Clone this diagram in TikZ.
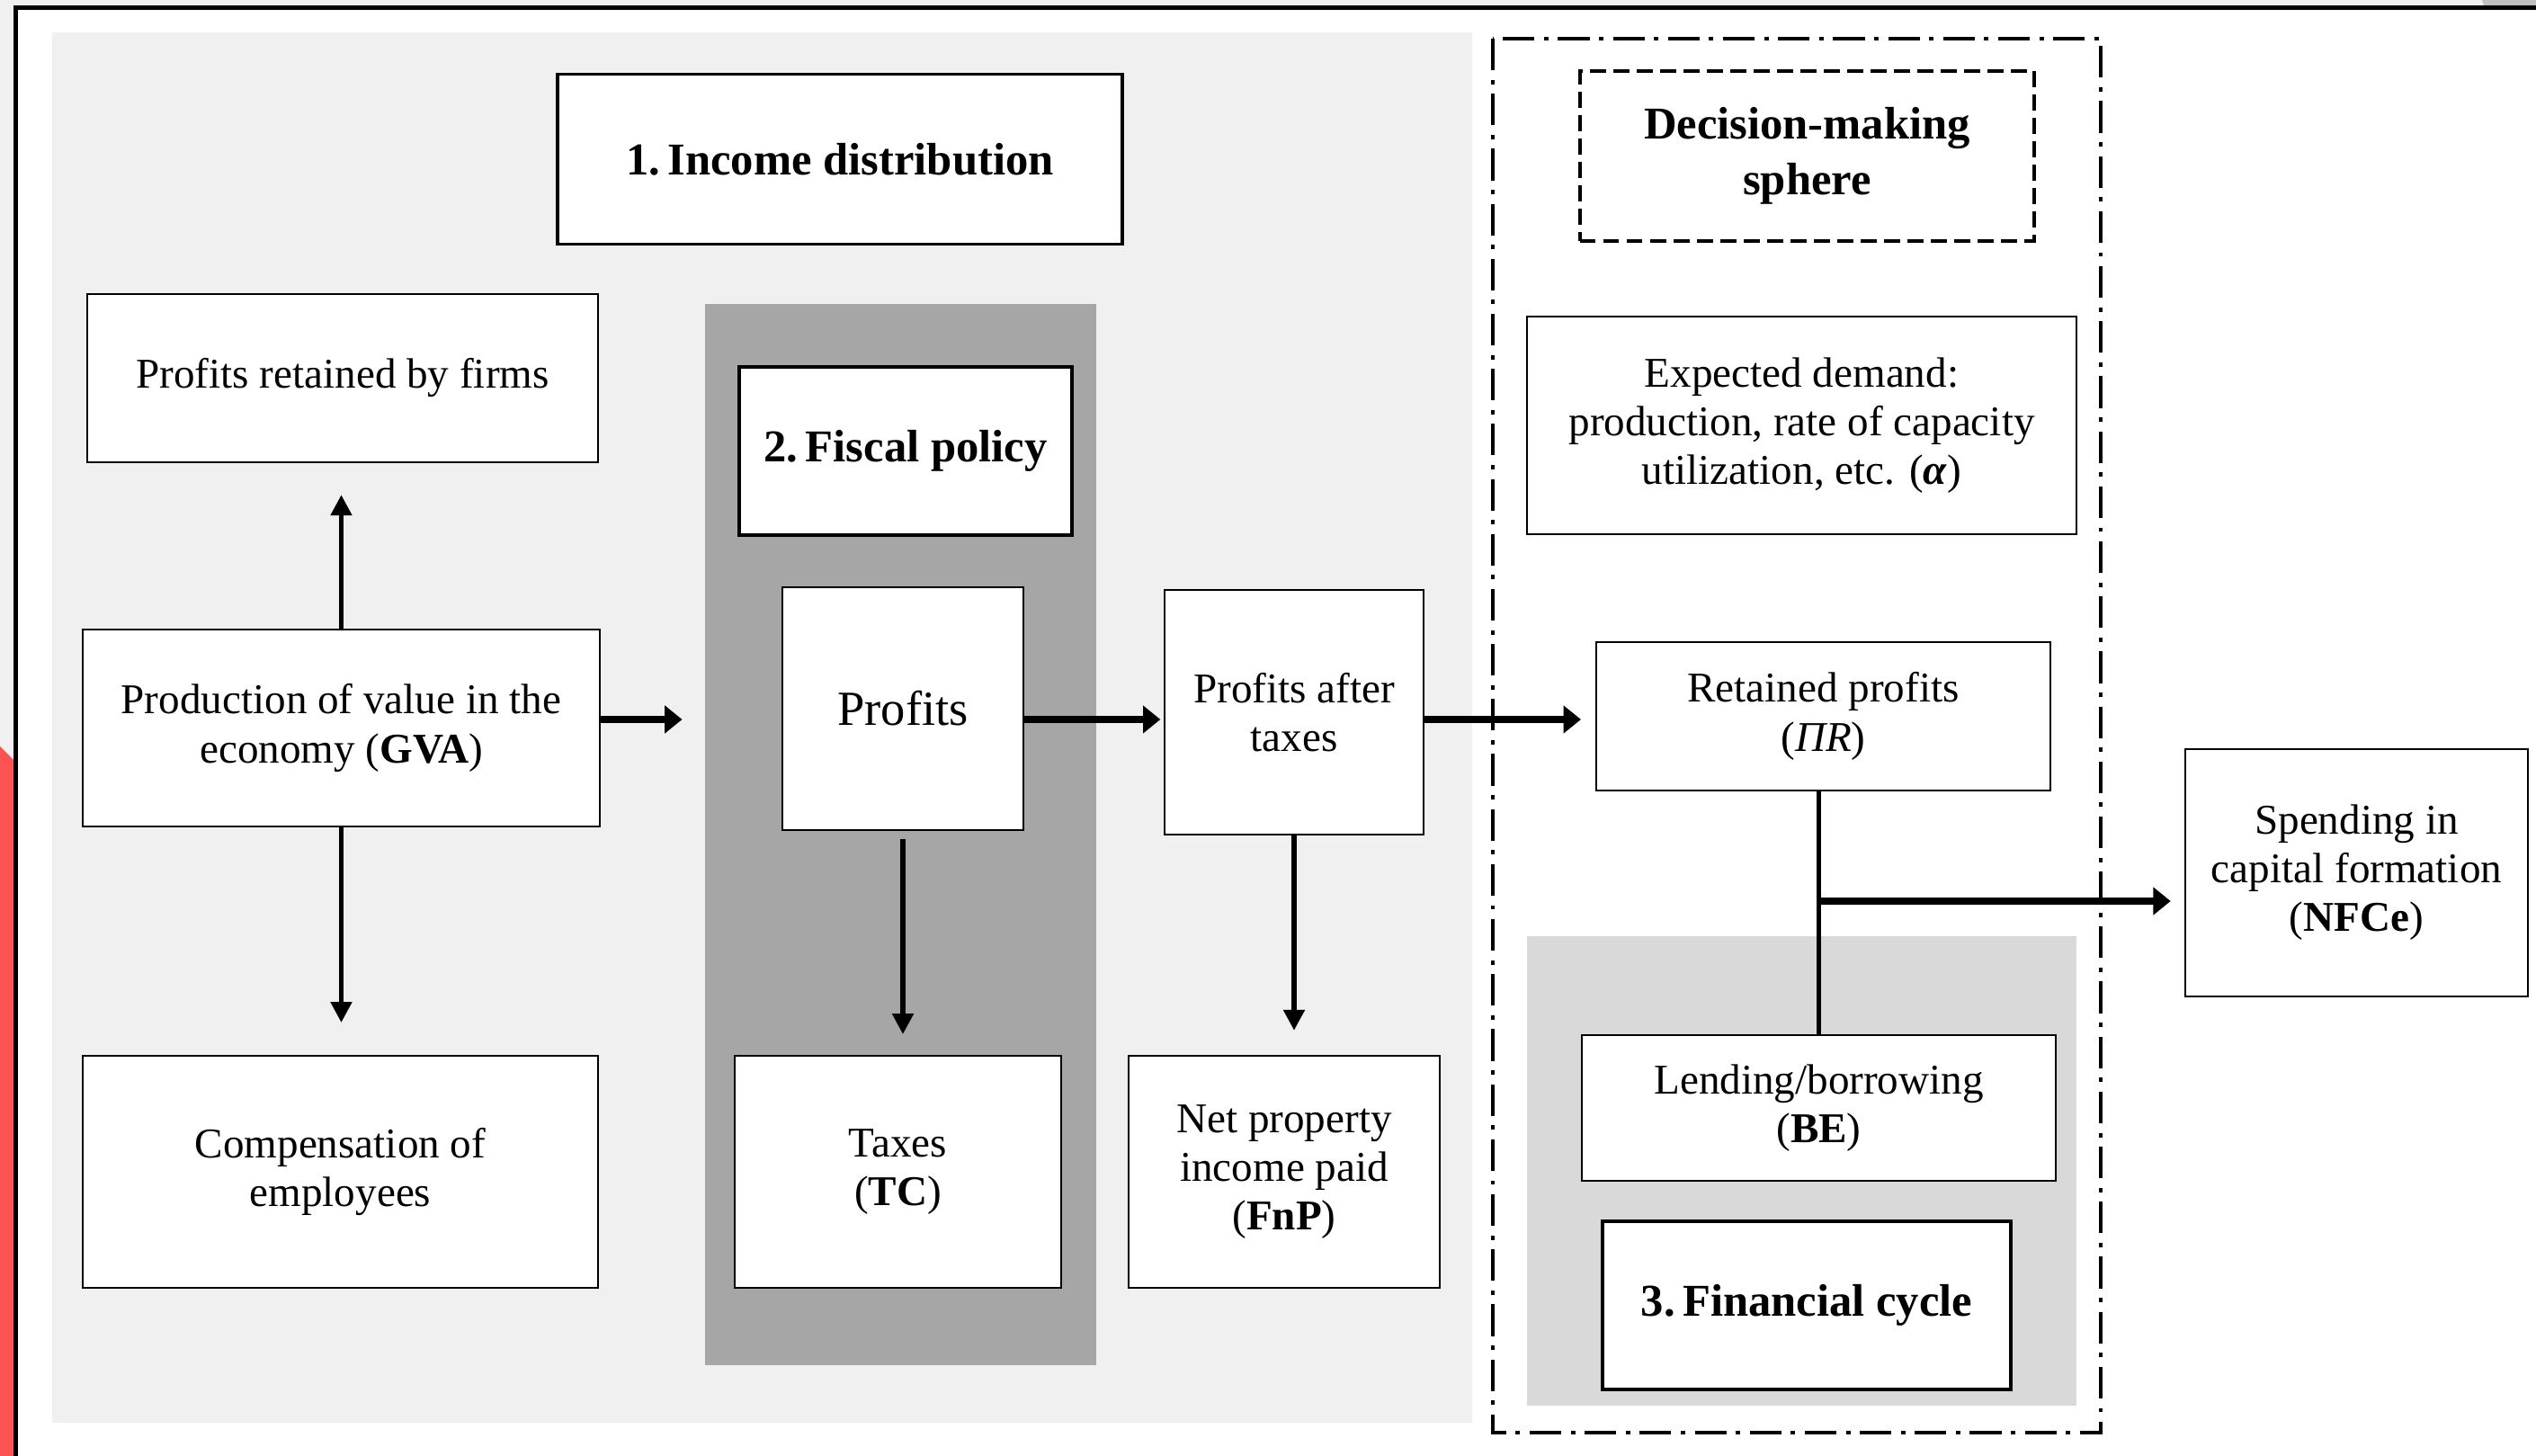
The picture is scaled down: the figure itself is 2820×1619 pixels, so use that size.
\documentclass[tikz,border=0pt]{standalone}
\usepackage{fontspec}
\setmainfont{Liberation Serif}
\usepackage{xcolor}
\usetikzlibrary{arrows.meta}
\definecolor{grigiochiaro}{HTML}{F0F0F0}
\definecolor{grigioscuro}{HTML}{A6A6A6}
\definecolor{grigiomedio}{HTML}{D9D9D9}
\definecolor{grigiobordo}{HTML}{C0C0C0}
\definecolor{rossobordo}{HTML}{FF5252}

\begin{document}
\begin{tikzpicture}[x=0.01cm, y=-0.01cm,
    scatola/.style={draw, line width=0.6pt, fill=white, align=center, inner sep=0pt,
        font=\fontsize{13.4}{15.4}\selectfont},
    titolo/.style={draw, line width=1.1pt, fill=white, align=center, inner sep=0pt,
        font=\fontsize{14.4}{17.8}\selectfont\bfseries},
    sfondo/.style={draw=none, inner sep=0pt},
    frecciaO/.style={line width=2pt, -{Triangle[length=5.5pt, width=8.5pt]}},
    frecciaV/.style={line width=1.5pt, -{Triangle[length=6.5pt, width=6.5pt]}}]
    % Cornice
    \useasboundingbox (0,0) rectangle (2820,1619);
    \fill[white] (0,0) rectangle (2820,1619);
    \fill[grigiochiaro] (0,0) rectangle (2820,6);
    \fill[grigiobordo] (2760,0) -- (2820,0) -- (2820,6) -- (2762,6) -- cycle;
    \fill[grigiochiaro] (0,6) rectangle (15,1619);
    \fill[rossobordo] (0,830) -- (15,845) -- (15,1619) -- (0,1619) -- cycle;
    \fill[black] (15,6) rectangle (2820,11);
    \fill[black] (15,6) rectangle (20,1619);
    % Sfondi grigi
    \fill[grigiochiaro] (58,36) rectangle (1637,1582);
    \node[sfondo, fill=grigioscuro, minimum width=4.35cm, minimum height=11.8cm] (fiscale) at (1001.5,928) {};
    \node[sfondo, fill=grigiomedio, minimum width=6.11cm, minimum height=5.22cm] (finanza) at (2003.5,1302) {};
    % Sfera delle decisioni
    \draw[line width=1.3pt, dash pattern=on 10pt off 3pt on 1.4pt off 3pt] (1660,43) rectangle (2336,1593);
    % 1. Distribuzione del reddito
    \node[titolo, minimum width=6.28cm, minimum height=1.89cm] (reddito) at (934,177) {1.\,Income distribution};
    \node[scatola, minimum width=5.68cm, minimum height=1.87cm] (imprese) at (381,420.5) {Profits retained by firms};
    \node[scatola, minimum width=5.75cm, minimum height=2.19cm] (gva) at (379.5,809.5) {Production of value in the\\economy (\textbf{GVA})};
    \node[scatola, minimum width=5.73cm, minimum height=2.58cm] (salari) at (378.5,1303) {Compensation of\\employees};
    % 2. Politica fiscale
    \node[titolo, minimum width=3.70cm, minimum height=1.87cm] (politica) at (1007,501.5) {2.\,Fiscal policy};
    \node[scatola, minimum width=2.68cm, minimum height=2.70cm, font=\fontsize{15.5}{18}\selectfont] (profitti) at (1004,788) {Profits};
    \node[scatola, minimum width=3.63cm, minimum height=2.58cm] (tasse) at (998.5,1303) {Taxes\\(\textbf{TC})};
    \node[scatola, minimum width=2.88cm, minimum height=2.72cm] (netti) at (1439,792) {Profits after\\taxes};
    \node[scatola, minimum width=3.46cm, minimum height=2.58cm] (fnp) at (1428,1303) {Net property\\income paid\\(\textbf{FnP})};
    % Decisioni
    \node[titolo, fill=none, dash pattern=on 5pt off 2.4pt, minimum width=5.05cm, minimum height=1.89cm] (sfera) at (2009.5,173.5) {Decision-making\\sphere};
    \node[scatola, minimum width=6.11cm, minimum height=2.42cm] (domanda) at (2003.5,473) {Expected demand:\\production, rate of capacity\\utilization, etc. (\textbf{\textit{α}})};
    \node[scatola, minimum width=5.05cm, minimum height=1.65cm] (trattenuti) at (2027.5,796.5) {Retained profits\\(\textit{ΠR})};
    % 3. Ciclo finanziario
    \node[scatola, minimum width=5.27cm, minimum height=1.62cm] (prestiti) at (2022.5,1232) {Lending/borrowing\\(\textbf{BE})};
    \node[titolo, minimum width=4.54cm, minimum height=1.87cm] (ciclo) at (2009,1451.5) {3.\,Financial cycle};
    \node[scatola, minimum width=3.81cm, minimum height=2.75cm] (nfce) at (2620.5,970.5) {Spending in\\capital formation\\(\textbf{NFCe})};
    % Frecce
    \coordinate (asse) at (0,800);
    \coordinate (ramo) at (2022.5,1002);
    \draw[frecciaV, shorten >=10pt] (gva.north) -- (gva.north |- imprese.south);
    \draw[frecciaV, shorten >=10.2pt] (gva.south) -- (gva.south |- salari.north);
    \draw[frecciaO, shorten >=7pt] (gva.east |- asse) -- (fiscale.west |- asse);
    \draw[frecciaO, shorten >=1pt] (profitti.east |- asse) -- (netti.west |- asse);
    \draw[frecciaV, shorten <=2.5pt, shorten >=6.5pt] (profitti.south) -- (profitti.south |- tasse.north);
    \draw[frecciaO, shorten >=4.5pt] (netti.east |- asse) -- (trattenuti.west |- asse);
    \draw[frecciaV, shorten >=7.7pt] (netti.south) -- (netti.south |- fnp.north);
    \draw[line width=1.4pt] (prestiti.north |- trattenuti.south) -- (prestiti.north);
    \draw[frecciaO, shorten >=4.3pt] (ramo) -- (ramo -| nfce.west);
\end{tikzpicture}
\end{document}
